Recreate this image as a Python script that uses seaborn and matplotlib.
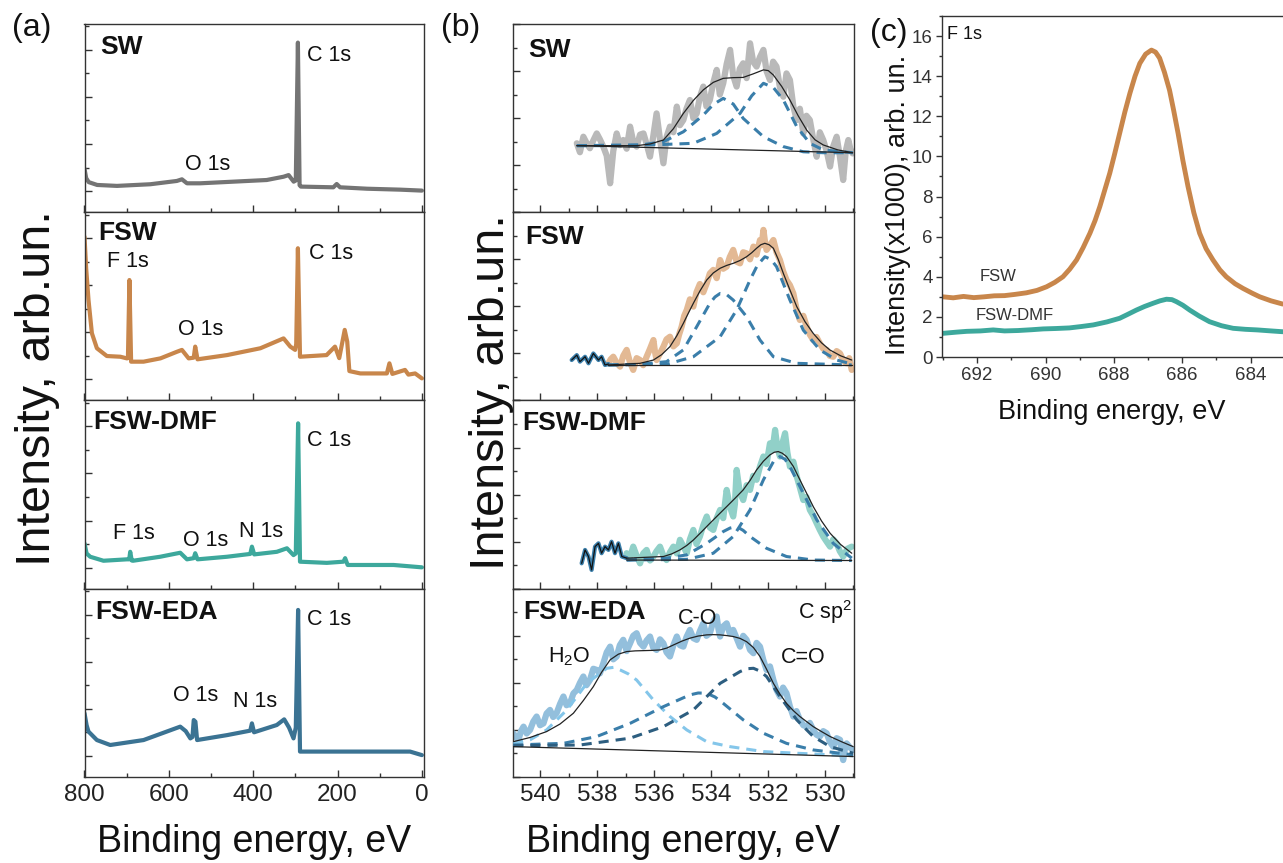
import matplotlib
matplotlib.use("Agg")
import matplotlib.pyplot as plt
from matplotlib.ticker import MultipleLocator
import seaborn as sns

# ---------------- (a) survey spectra ----------------
a_sw_E = [800, 796, 790, 770, 723, 644, 581, 569, 557, 526, 447, 368, 328, 316, 304, 299,
          294, 290, 287, 210, 202, 194, 130, 51, 0]
a_sw_I = [0.95, 0.55, 0.38, 0.26, 0.22, 0.29, 0.43, 0.50, 0.33, 0.33, 0.40, 0.47, 0.61, 0.68, 0.40, 0.45,
          6.31, 0.25, 0.19, 0.16, 0.30, 0.16, 0.10, 0.06, 0.02]

a_fsw_E = [800, 796, 790.5, 782.5, 770.6, 747, 715, 699.5, 697, 693.5, 689.5, 660, 620, 581, 569,
           553, 541, 537.5, 532, 462, 383, 328, 312, 300.5, 298, 294, 289, 226, 206, 196, 183,
           177, 172, 146, 83, 77, 70, 40, 32, 16, 0]
a_fsw_I = [6.06, 4.70, 3.37, 1.96, 1.32, 0.99, 0.96, 0.89, 0.90, 4.22, 0.75, 0.75, 0.89, 1.17, 1.25,
           0.89, 0.92, 1.39, 0.85, 1.03, 1.32, 1.74, 1.39, 1.25, 1.50, 5.57, 0.96, 1.03, 1.39, 0.90, 2.10,
           1.60, 0.35, 0.25, 0.25, 0.68, 0.23, 0.40, 0.20, 0.25, 0.04]

a_dmf_E = [800, 795, 786.5, 755, 699.5, 694, 691.6, 688, 685, 620.5, 573, 557, 541, 537.5, 532,
           462, 407, 403, 397.6, 344, 320, 304.4, 299, 293.5, 289, 225.5, 186, 182, 176, 67, 0]
a_dmf_I = [1.03, 0.60, 0.46, 0.29, 0.35, 0.35, 0.67, 0.30, 0.29, 0.46, 0.63, 0.35, 0.40, 0.61, 0.35,
           0.46, 0.58, 0.89, 0.56, 0.67, 0.82, 0.53, 0.60, 6.13, 0.25, 0.20, 0.25, 0.40, 0.11, 0.11, 0.01]

a_eda_E = [800, 795, 790.5, 770.6, 739, 660, 573, 560, 549, 544, 541, 537, 533, 462, 407, 403,
           398, 344, 326.5, 315, 304.4, 299, 293.5, 289, 225, 28, 0]
a_eda_I = [1.81, 1.30, 1.03, 0.67, 0.46, 0.67, 1.24, 1.05, 0.74, 0.80, 1.52, 1.45, 0.67, 0.88, 1.07, 1.38,
           1.00, 1.31, 1.55, 1.20, 0.74, 1.20, 6.20, 0.18, 0.18, 0.18, 0.03]

# ---------------- (b) O 1s spectra ----------------
b_sw_E = [538.71, 538.60, 538.48, 538.37, 538.25, 538.13, 538.01, 537.90, 537.78, 537.66,
          537.54, 537.43, 537.31, 537.20, 537.08, 536.96, 536.84, 536.73, 536.61, 536.49,
          536.37, 536.26, 536.14, 536.03, 535.91, 535.79, 535.67, 535.56, 535.44, 535.32,
          535.20, 535.09, 534.97, 534.86, 534.74, 534.62, 534.50, 534.39, 534.27, 534.16,
          534.04, 533.92, 533.80, 533.69, 533.57, 533.45, 533.33, 533.22, 533.10, 532.99,
          532.87, 532.75, 532.63, 532.52, 532.40, 532.28, 532.16, 532.05, 531.93, 531.82,
          531.70, 531.58, 531.46, 531.35, 531.23, 531.11, 530.99, 530.88, 530.76, 530.65,
          530.53, 530.41, 530.29, 530.18, 530.06, 529.94, 529.82, 529.71, 529.59, 529.48,
          529.36, 529.27, 529.18, 529.11, 529.03]
b_sw_I = [2.93, 2.55, 3.21, 2.95, 2.72, 3.05, 3.35, 3.10, 2.79, 2.40,
          1.23, 2.60, 3.35, 2.85, 3.07, 2.70, 3.64, 3.00, 2.79, 3.30,
          3.35, 2.90, 2.36, 3.20, 4.20, 3.10, 2.08, 3.20, 3.64, 3.40,
          4.49, 3.70, 3.92, 4.40, 4.77, 4.00, 4.20, 4.90, 5.34, 4.50,
          4.77, 5.50, 6.05, 5.00, 5.48, 6.30, 6.90, 5.80, 5.34, 6.10,
          6.33, 5.70, 7.18, 6.40, 6.19, 6.60, 6.90, 6.00, 5.62, 6.40,
          6.19, 5.30, 4.91, 5.90, 5.62, 4.50, 3.92, 4.40, 3.35, 4.10,
          3.92, 3.10, 2.36, 3.40, 3.07, 2.60, 1.94, 2.80, 3.21, 2.40,
          1.37, 2.60, 3.07, 2.70, 2.50]
b_sw_fit_E = [538.71, 536.61, 536.14, 535.67, 535.32, 534.97, 534.62, 534.27, 533.92, 533.57, 533.22,
              532.87, 532.52, 532.16, 531.99, 531.81, 531.52, 531.23, 530.94, 530.64, 530.35, 530.06,
              529.55, 529.03]
b_sw_fit_I = [2.83, 2.83, 2.90, 3.07, 3.55, 4.20, 4.75, 5.20, 5.52, 5.69, 5.72,
              5.73, 5.88, 6.05, 6.02, 5.83, 5.35, 4.77, 4.10, 3.49, 3.08, 2.86,
              2.65, 2.53]
b_sw_base_E = [538.71, 529.03]
b_sw_base_I = [2.83, 2.53]
b_sw_c1_E = [538.71, 536.61, 535.67, 534.97, 534.27, 533.92, 533.57, 533.22, 532.87, 532.16, 531.46,
             530.76, 530.06, 529.03]
b_sw_c1_I = [2.83, 2.83, 3.00, 3.42, 4.13, 4.58, 4.84, 4.60, 3.99, 3.21, 2.79, 2.57, 2.53, 2.53]
b_sw_c2_E = [538.71, 535.67, 534.62, 533.80, 532.98, 532.57, 532.16, 531.81, 531.46, 530.99, 530.53,
             530.06, 529.03]
b_sw_c2_I = [2.83, 2.88, 2.93, 3.35, 4.20, 4.95, 5.48, 5.30, 4.77, 3.64, 2.93, 2.65, 2.53]

b_fsw_raw_E = [538.89, 538.71, 538.60, 538.42, 538.30, 538.13, 537.95, 537.84, 537.72, 537.60]
b_fsw_raw_I = [1.72, 1.93, 1.65, 1.86, 1.58, 2.00, 1.72, 1.86, 1.51, 1.55]
b_fsw_E = [537.60, 537.52, 537.43, 537.31, 537.19, 537.08, 536.96, 536.85, 536.73, 536.61,
           536.49, 536.38, 536.26, 536.14, 536.02, 535.97, 535.91, 535.79, 535.67, 535.56,
           535.44, 535.32, 535.20, 535.12, 535.03, 534.94, 534.85, 534.74, 534.62, 534.51,
           534.39, 534.27, 534.15, 534.04, 533.92, 533.80, 533.68, 533.57, 533.45, 533.34,
           533.22, 533.10, 532.98, 532.87, 532.75, 532.63, 532.51, 532.40, 532.28, 532.22,
           532.16, 532.11, 532.05, 531.93, 531.81, 531.70, 531.58, 531.47, 531.35, 531.23,
           531.11, 531.00, 530.88, 530.76, 530.64, 530.53, 530.41, 530.30, 530.18, 530.06,
           529.94, 529.83, 529.71, 529.59, 529.47, 529.36, 529.24, 529.15, 529.06]
b_fsw_I = [1.58, 1.75, 1.86, 1.60, 1.44, 1.90, 2.15, 1.65, 1.30, 1.80,
           1.72, 1.50, 1.86, 2.20, 2.57, 2.10, 1.72, 2.00, 2.29, 2.60,
           2.71, 2.30, 2.43, 2.80, 3.14, 3.60, 3.85, 4.30, 3.99, 4.60,
           4.95, 4.60, 4.98, 5.40, 5.55, 5.20, 5.97, 5.60, 5.69, 6.10,
           6.40, 5.90, 5.83, 6.30, 6.25, 6.00, 6.54, 6.20, 6.82, 6.60,
           7.25, 6.80, 6.40, 6.60, 6.82, 6.30, 5.97, 5.50, 5.12, 4.90,
           4.55, 3.90, 3.42, 3.60, 3.14, 2.80, 2.57, 2.70, 2.43, 2.20,
           2.15, 1.90, 1.86, 2.10, 2.00, 1.70, 1.58, 1.80, 1.30]
b_fsw_fit_E = [537.60, 536.49, 536.02, 535.73, 535.44, 535.20, 534.97, 534.80, 534.62, 534.39, 534.15,
               533.92, 533.68, 533.45, 533.22, 532.98, 532.75, 532.57, 532.40, 532.25, 532.11, 531.96,
               531.81, 531.64, 531.46, 531.23, 530.99, 530.70, 530.41, 530.12, 529.83, 529.45, 529.06]
b_fsw_fit_I = [1.51, 1.58, 1.72, 1.95, 2.29, 2.75, 3.28, 3.70, 4.13, 4.65, 5.12,
               5.42, 5.62, 5.74, 5.83, 5.95, 6.11, 6.28, 6.47, 6.62, 6.68, 6.62,
               6.47, 6.00, 5.40, 4.70, 3.99, 3.35, 2.85, 2.45, 2.15, 1.90, 1.72]
b_fsw_base_E = [537.60, 529.06]
b_fsw_base_I = [1.51, 1.51]
b_fsw_c1_E = [537.60, 536.49, 535.56, 534.97, 534.50, 534.04, 533.86, 533.68, 533.45, 533.22, 532.75,
              532.28, 531.81, 530.99, 529.06]
b_fsw_c1_I = [1.51, 1.54, 1.65, 2.15, 3.14, 4.13, 4.40, 4.55, 4.50, 4.27, 3.56, 2.57, 1.86, 1.58, 1.51]
b_fsw_c2_E = [537.60, 535.56, 534.62, 533.68, 533.10, 532.63, 532.37, 532.11, 531.90, 531.70, 531.23,
              530.76, 530.18, 529.59, 529.06]
b_fsw_c2_I = [1.51, 1.54, 1.86, 2.71, 3.85, 5.12, 5.75, 6.11, 6.00, 5.69, 4.27, 2.99, 2.15, 1.72, 1.55]

b_dmf_raw_E = [538.54, 538.42, 538.30, 538.19, 538.07, 537.95, 537.84, 537.72, 537.60, 537.49,
               537.37, 537.25, 537.13, 536.96]
b_dmf_raw_I = [1.08, 1.65, 1.37, 0.80, 1.79, 1.93, 1.51, 1.79, 1.65, 2.00, 1.51, 1.93, 1.37, 1.30]
b_dmf_E = [536.96, 536.85, 536.73, 536.61, 536.49, 536.38, 536.26, 536.14, 536.02, 535.91,
           535.79, 535.67, 535.56, 535.44, 535.32, 535.20, 535.09, 534.97, 534.85, 534.74,
           534.62, 534.51, 534.39, 534.27, 534.15, 534.04, 533.92, 533.80, 533.68, 533.57,
           533.45, 533.34, 533.22, 533.16, 533.10, 532.99, 532.87, 532.75, 532.63, 532.52,
           532.40, 532.28, 532.16, 532.05, 531.93, 531.84, 531.75, 531.67, 531.58, 531.49,
           531.40, 531.32, 531.23, 531.11, 530.99, 530.88, 530.76, 530.65, 530.53, 530.41,
           530.29, 530.18, 530.06, 529.94, 529.82, 529.71, 529.59, 529.48, 529.36, 529.21,
           529.06]
b_dmf_I = [1.51, 1.30, 1.79, 1.40, 1.08, 1.50, 1.65, 1.20, 1.37, 1.60,
           1.79, 1.40, 1.22, 1.55, 1.79, 1.50, 2.08, 1.80, 1.51, 2.10,
           2.50, 1.90, 2.22, 2.70, 3.07, 2.60, 2.50, 3.00, 3.35, 3.00,
           4.20, 3.50, 3.07, 3.60, 5.05, 4.10, 3.77, 4.40, 4.20, 4.80,
           4.63, 5.20, 5.62, 5.30, 6.18, 5.90, 6.75, 6.00, 5.62, 6.20,
           6.61, 5.80, 5.19, 5.40, 4.77, 4.30, 3.77, 3.90, 3.35, 3.10,
           2.78, 2.50, 2.22, 2.00, 1.79, 2.10, 1.93, 1.60, 1.37, 1.70,
           1.79]
b_dmf_fit_E = [536.96, 535.67, 535.38, 535.09, 534.85, 534.62, 534.33, 534.04, 533.75, 533.45, 533.16,
               532.87, 532.63, 532.40, 532.16, 531.93, 531.78, 531.64, 531.50, 531.35, 531.11, 530.88,
               530.64, 530.41, 530.12, 529.82, 529.45, 529.06]
b_dmf_fit_I = [1.30, 1.37, 1.48, 1.65, 1.84, 2.07, 2.42, 2.78, 3.13, 3.49, 3.84,
               4.20, 4.60, 5.05, 5.42, 5.69, 5.80, 5.83, 5.76, 5.62, 5.20, 4.63,
               4.05, 3.49, 2.88, 2.36, 1.88, 1.51]
b_dmf_base_E = [536.96, 529.06]
b_dmf_base_I = [1.22, 1.20]
b_dmf_c1_E = [536.96, 535.56, 534.85, 534.15, 533.57, 533.33, 533.10, 532.87, 532.63, 532.05, 531.35,
              530.41, 529.06]
b_dmf_c1_I = [1.22, 1.30, 1.44, 1.93, 2.43, 2.58, 2.64, 2.48, 2.22, 1.72, 1.37, 1.22, 1.20]
b_dmf_c2_E = [536.96, 534.85, 533.92, 533.22, 532.63, 532.16, 531.81, 531.58, 531.40, 531.23, 530.76,
              530.29, 529.71, 529.06]
b_dmf_c2_I = [1.22, 1.25, 1.51, 2.22, 3.35, 4.63, 5.40, 5.62, 5.50, 5.19, 4.06, 2.93, 1.93, 1.30]

b_eda_E = [540.94, 540.85, 540.76, 540.67, 540.58, 540.47, 540.35, 540.24, 540.12, 540.00,
           539.88, 539.77, 539.65, 539.54, 539.42, 539.30, 539.18, 539.07, 538.95, 538.83,
           538.71, 538.60, 538.48, 538.37, 538.25, 538.13, 538.01, 537.90, 537.78, 537.66,
           537.54, 537.43, 537.31, 537.20, 537.08, 536.96, 536.84, 536.73, 536.61, 536.49,
           536.37, 536.26, 536.14, 536.03, 535.91, 535.79, 535.67, 535.56, 535.44, 535.32,
           535.20, 535.09, 534.97, 534.86, 534.74, 534.62, 534.50, 534.39, 534.27, 534.16,
           534.04, 533.92, 533.80, 533.74, 533.68, 533.57, 533.45, 533.34, 533.22, 533.10,
           532.98, 532.87, 532.75, 532.63, 532.51, 532.40, 532.28, 532.17, 532.05, 531.93,
           531.81, 531.70, 531.58, 531.47, 531.35, 531.23, 531.11, 531.00, 530.88, 530.76,
           530.64, 530.53, 530.41, 530.30, 530.18, 530.06, 529.94, 529.83, 529.71, 529.59,
           529.47, 529.42, 529.36, 529.30, 529.24, 529.12, 529.01]
b_eda_I = [1.86, 1.70, 1.58, 1.95, 2.14, 1.85, 2.00, 2.35, 2.57, 2.20,
           2.28, 2.70, 2.85, 2.55, 2.71, 3.10, 3.42, 3.05, 3.13, 3.55,
           3.70, 4.00, 4.27, 3.90, 4.12, 4.60, 4.55, 4.40, 4.83, 5.30,
           5.54, 5.00, 5.12, 5.60, 5.83, 5.35, 5.68, 6.00, 6.11, 5.70,
           5.54, 5.80, 5.97, 5.50, 5.40, 5.85, 5.68, 5.30, 5.12, 5.60,
           5.97, 5.60, 5.54, 5.95, 6.25, 5.90, 5.83, 6.20, 6.53, 6.00,
           6.11, 6.60, 6.82, 6.30, 5.97, 6.40, 6.53, 6.10, 6.25, 5.90,
           5.54, 6.00, 5.83, 5.40, 5.26, 5.70, 5.54, 5.00, 4.55, 4.70,
           4.12, 3.70, 3.42, 3.80, 3.56, 3.00, 2.57, 2.80, 2.43, 2.20,
           2.14, 2.30, 2.00, 1.80, 1.72, 1.95, 1.86, 1.50, 1.29, 1.65,
           1.58, 1.10, 0.72, 1.20, 1.43, 1.25, 1.15]
b_eda_fit_E = [540.94, 540.35, 539.77, 539.30, 538.83, 538.48, 538.13, 537.84, 537.54, 537.25, 536.96,
               536.66, 536.37, 536.08, 535.79, 535.55, 535.32, 535.03, 534.74, 534.45, 534.15, 533.92,
               533.68, 533.45, 533.22, 532.98, 532.75, 532.51, 532.28, 532.05, 531.81, 531.58, 531.35,
               531.11, 530.88, 530.64, 530.41, 530.12, 529.82, 529.42, 529.01]
b_eda_fit_I = [1.50, 1.68, 1.93, 2.25, 2.71, 3.25, 3.84, 4.45, 4.98, 5.22, 5.33,
               5.36, 5.37, 5.38, 5.40, 5.48, 5.61, 5.77, 5.90, 5.99, 6.04, 6.05,
               6.04, 6.01, 5.97, 5.89, 5.75, 5.50, 5.12, 4.58, 3.98, 3.52, 3.13,
               2.82, 2.57, 2.35, 2.14, 1.93, 1.72, 1.50, 1.29]
b_eda_base_E = [540.94, 529.01]
b_eda_base_I = [1.29, 0.87]
b_eda_h2o_E = [540.94, 540.35, 539.77, 539.06, 538.36, 537.66, 537.42, 537.19, 536.90, 536.61, 536.02,
               535.44, 534.85, 534.15, 533.33, 532.16, 530.99, 529.01]
b_eda_h2o_I = [1.43, 1.58, 2.00, 2.85, 3.98, 4.62, 4.66, 4.55, 4.38, 4.12, 3.27, 2.57, 2.00, 1.50, 1.29,
               1.08, 1.01, 0.90]
b_eda_co_E = [540.94, 539.18, 538.01, 536.84, 535.67, 534.74, 534.45, 534.15, 533.86, 533.57, 532.87,
              532.16, 531.35, 530.41, 529.01]
b_eda_co_I = [1.36, 1.43, 1.72, 2.28, 2.99, 3.49, 3.57, 3.56, 3.40, 3.13, 2.43, 1.86, 1.43, 1.15, 0.94]
b_eda_cdo_E = [540.94, 538.60, 536.84, 535.67, 534.62, 533.68, 532.98, 532.75, 532.51, 532.28, 532.05,
               531.58, 530.99, 530.41, 529.82, 529.01]
b_eda_cdo_I = [1.33, 1.36, 1.65, 2.14, 2.85, 3.98, 4.48, 4.60, 4.62, 4.50, 4.27, 3.42, 2.43, 1.72, 1.29, 1.01]

# ---------------- (c) F 1s ----------------
c_fsw_E = [693.0, 692.7, 692.4, 692.1, 691.8, 691.5, 691.2, 690.9, 690.56, 690.25, 689.97, 689.73,
           689.49, 689.29, 689.09, 688.90, 688.70, 688.55, 688.41, 688.27, 688.12, 687.98, 687.83,
           687.68, 687.53, 687.38, 687.24, 687.07, 686.90, 686.78, 686.66, 686.52, 686.37, 686.25,
           686.12, 685.98, 685.83, 685.66, 685.49, 685.30, 685.10, 684.90, 684.71, 684.45, 684.22,
           683.95, 683.73, 683.40, 683.06]
c_fsw_I = [3.0, 2.95, 3.02, 2.96, 3.0, 3.05, 3.06, 3.12, 3.2, 3.32, 3.5, 3.72,
           4.0, 4.38, 4.84, 5.45, 6.17, 6.8, 7.5, 8.3, 9.16, 10.1, 11.15,
           12.2, 13.15, 14.0, 14.64, 15.1, 15.3, 15.2, 14.9, 14.2, 13.3, 12.3,
           11.15, 9.8, 8.5, 7.2, 6.17, 5.4, 4.84, 4.35, 4.0, 3.65, 3.42,
           3.18, 3.0, 2.8, 2.64]
c_dmf_E = [693.0, 692.6, 692.3, 691.9, 691.53, 691.2, 690.8, 690.4, 690.07, 689.7, 689.3, 688.95,
           688.6, 688.2, 687.83, 687.6, 687.34, 687.1, 686.85, 686.65, 686.46, 686.3, 686.17, 685.98,
           685.78, 685.5, 685.2, 684.85, 684.51, 684.15, 683.8, 683.4, 683.06]
c_dmf_I = [1.18, 1.24, 1.28, 1.30, 1.35, 1.30, 1.32, 1.36, 1.40, 1.42, 1.45, 1.52,
           1.60, 1.75, 1.93, 2.12, 2.34, 2.52, 2.68, 2.80, 2.88, 2.86, 2.76, 2.58,
           2.34, 2.04, 1.76, 1.56, 1.43, 1.38, 1.35, 1.30, 1.26]

names = ["SW", "FSW", "FSW-DMF", "FSW-EDA"]
dark_cols = ["#747474", "#c8864b", "#3da89c", "#3b7393"]
light_cols = ["#b9b9b9", "#e3b994", "#91d0c8", "#93bfdc"]
comp_col = "#3a7eaa"

sns.set_theme(style="ticks")
plt.rcParams["font.family"] = ["Liberation Sans", "DejaVu Sans"]
plt.rcParams["axes.edgecolor"] = "#333333"
plt.rcParams["axes.linewidth"] = 1.0

W, H = 1283, 863
fig = plt.figure(figsize=(W / 100, H / 100), dpi=100)


def box(l, t, r, b):
    return [l / W, 1 - b / H, (r - l) / W, (b - t) / H]


def draw(ax, x, y, color, lw, dash=None, z=2):
    sns.lineplot(x=x, y=y, ax=ax, color=color, lw=lw, estimator=None, sort=False, zorder=z)
    ln = ax.lines[-1]
    if dash is not None:
        ln.set_dashes(dash)
    return ln


def style_axis(ax, labels):
    ax.tick_params(which="both", direction="in", top=False, right=False, color="#333333",
                   labelsize=17.5, labelcolor="#222222", pad=5)
    ax.tick_params(which="major", length=5, width=1)
    ax.tick_params(which="minor", length=3, width=1)
    ax.tick_params(axis="y", labelleft=False)
    ax.tick_params(axis="x", labelbottom=labels)


tops = [24 + i * 188.25 for i in range(4)]

# panel (a)
a_data = [(a_sw_E, a_sw_I), (a_fsw_E, a_fsw_I), (a_dmf_E, a_dmf_I), (a_eda_E, a_eda_I)]
a_axes = []
for i, (E, I) in enumerate(a_data):
    ax = fig.add_axes(box(84.5, tops[i], 424, tops[i] + 188.25))
    draw(ax, E, I, dark_cols[i], 3.0)
    ax.set_xlim(800, -5)
    ax.set_ylim(-0.9, 7.1)
    ax.xaxis.set_major_locator(MultipleLocator(200))
    ax.xaxis.set_minor_locator(MultipleLocator(100))
    ax.yaxis.set_major_locator(MultipleLocator(2))
    ax.yaxis.set_minor_locator(MultipleLocator(1))
    style_axis(ax, i == 3)
    a_axes.append(ax)

lab = dict(fontsize=15.5, color="#111111", va="center", ha="left")
bold = dict(fontsize=19, fontweight="bold", color="#111111", va="center", ha="left")
a_axes[0].text(762, 6.12, "SW", **bold)
a_axes[0].text(272, 5.78, "C 1s", **lab)
a_axes[0].text(561, 1.11, "O 1s", **lab)
a_axes[1].text(768, 6.22, "FSW", **bold)
a_axes[1].text(747, 5.0, "F 1s", **lab)
a_axes[1].text(578, 2.1, "O 1s", **lab)
a_axes[1].text(267, 5.33, "C 1s", **lab)
a_axes[2].text(779, 6.2, "FSW-DMF", **bold)
a_axes[2].text(272, 5.39, "C 1s", **lab)
a_axes[2].text(732, 1.45, "F 1s", **lab)
a_axes[2].text(567, 1.17, "O 1s", **lab)
a_axes[2].text(433, 1.52, "N 1s", **lab)
a_axes[3].text(775, 6.12, "FSW-EDA", **bold)
a_axes[3].text(272, 5.8, "C 1s", **lab)
a_axes[3].text(590, 2.58, "O 1s", **lab)
a_axes[3].text(447, 2.3, "N 1s", **lab)

# panel (b)
b_sets = [
    dict(raw=None, data=(b_sw_E, b_sw_I), fit=(b_sw_fit_E, b_sw_fit_I), base=(b_sw_base_E, b_sw_base_I),
         comps=[(b_sw_c1_E, b_sw_c1_I, comp_col), (b_sw_c2_E, b_sw_c2_I, comp_col)]),
    dict(raw=(b_fsw_raw_E, b_fsw_raw_I), data=(b_fsw_E, b_fsw_I), fit=(b_fsw_fit_E, b_fsw_fit_I),
         base=(b_fsw_base_E, b_fsw_base_I),
         comps=[(b_fsw_c1_E, b_fsw_c1_I, comp_col), (b_fsw_c2_E, b_fsw_c2_I, comp_col)]),
    dict(raw=(b_dmf_raw_E, b_dmf_raw_I), data=(b_dmf_E, b_dmf_I), fit=(b_dmf_fit_E, b_dmf_fit_I),
         base=(b_dmf_base_E, b_dmf_base_I),
         comps=[(b_dmf_c1_E, b_dmf_c1_I, comp_col), (b_dmf_c2_E, b_dmf_c2_I, comp_col)]),
    dict(raw=None, data=(b_eda_E, b_eda_I), fit=(b_eda_fit_E, b_eda_fit_I), base=(b_eda_base_E, b_eda_base_I),
         comps=[(b_eda_h2o_E, b_eda_h2o_I, "#84c6ea"), (b_eda_co_E, b_eda_co_I, "#3a7eaa"),
                (b_eda_cdo_E, b_eda_cdo_I, "#2d5e80")]),
]
b_axes = []
for i, s in enumerate(b_sets):
    ax = fig.add_axes(box(512.7, tops[i], 854.3, tops[i] + 188.25))
    draw(ax, *s["data"], light_cols[i], 4.5, z=2)
    for E, I, c in s["comps"]:
        draw(ax, E, I, c, 2.2, dash=(3.3, 2.3), z=3)
    if s["raw"] is not None:
        draw(ax, *s["raw"], comp_col, 3.0, z=3)
        draw(ax, *s["raw"], "#111111", 0.9, z=4)
    draw(ax, *s["fit"], "#222222", 0.9, z=4)
    draw(ax, *s["base"], "#222222", 0.9, z=4)
    ax.set_xlim(540.96, 528.97)
    ax.set_ylim(0, 8)
    ax.xaxis.set_major_locator(MultipleLocator(2))
    ax.xaxis.set_minor_locator(MultipleLocator(1))
    ax.yaxis.set_major_locator(MultipleLocator(2))
    ax.yaxis.set_minor_locator(MultipleLocator(1))
    style_axis(ax, i == 3)
    ax.text([540.41, 540.53, 540.64, 540.58][i], [6.9, 6.96, 7.03, 7.02][i], names[i], **bold)
    b_axes.append(ax)

ax = b_axes[3]
ax.text(529.06, 7.02, r"C sp$^{\mathregular{2}}$", fontsize=15.5, color="#111111", ha="right", va="center")
ax.text(534.47, 6.74, "C-O", fontsize=15.5, color="#111111", ha="center", va="center")
ax.text(538.98, 5.11, r"H$_{\mathregular{2}}$O", fontsize=15.5, color="#111111", ha="center", va="center")
ax.text(530.76, 5.09, "C=O", fontsize=15.5, color="#111111", ha="center", va="center")

# panel (c)
axc = fig.add_axes(box(942.3, 16, W, 357))
draw(axc, c_fsw_E, c_fsw_I, dark_cols[1], 3.5)
draw(axc, c_dmf_E, c_dmf_I, dark_cols[2], 3.5)
axc.set_xlim(693.02, 683.05)
axc.set_ylim(0, 17)
axc.xaxis.set_major_locator(MultipleLocator(2))
axc.xaxis.set_minor_locator(MultipleLocator(1))
axc.yaxis.set_major_locator(MultipleLocator(2))
axc.yaxis.set_minor_locator(MultipleLocator(1))
axc.tick_params(which="both", direction="out", top=False, right=False, color="#333333",
                labelsize=13.5, labelcolor="#333333", pad=3)
axc.tick_params(which="major", length=4, width=1)
axc.tick_params(which="minor", length=2.5, width=1)
axc.spines["right"].set_visible(False)
axc.text(692.89, 16.1, "F 1s", fontsize=13, color="#111111", ha="left", va="center")
axc.text(691.4, 3.99, "FSW", fontsize=12, color="#333333", ha="center", va="center")
axc.text(690.9, 2.09, "FSW-DMF", fontsize=12, color="#333333", ha="center", va="center")

# axis labels and panel letters
fig.text(254 / W, 1 - 842 / H, "Binding energy, eV", fontsize=27, ha="center", va="center", color="#111111")
fig.text(683.5 / W, 1 - 842 / H, "Binding energy, eV", fontsize=27, ha="center", va="center", color="#111111")
fig.text(1112 / W, 1 - 412 / H, "Binding energy, eV", fontsize=19.5, ha="center", va="center", color="#111111")
fig.text(38 / W, 1 - 388 / H, "Intensity, arb.un.", fontsize=35, rotation=90, ha="center", va="center",
         color="#111111")
fig.text(492 / W, 1 - 392 / H, "Intensity, arb.un.", fontsize=35, rotation=90, ha="center", va="center",
         color="#111111")
fig.text(898 / W, 1 - 205 / H, "Intensity(x1000), arb. un.", fontsize=19.5, rotation=90, ha="center",
         va="center", color="#111111")
fig.text(12 / W, 1 - 28 / H, "(a)", fontsize=23, ha="left", va="center", color="#111111")
fig.text(441 / W, 1 - 28 / H, "(b)", fontsize=23, ha="left", va="center", color="#111111")
fig.text(870 / W, 1 - 33 / H, "(c)", fontsize=23, ha="left", va="center", color="#111111")

fig.savefig("out.png", dpi=100)
